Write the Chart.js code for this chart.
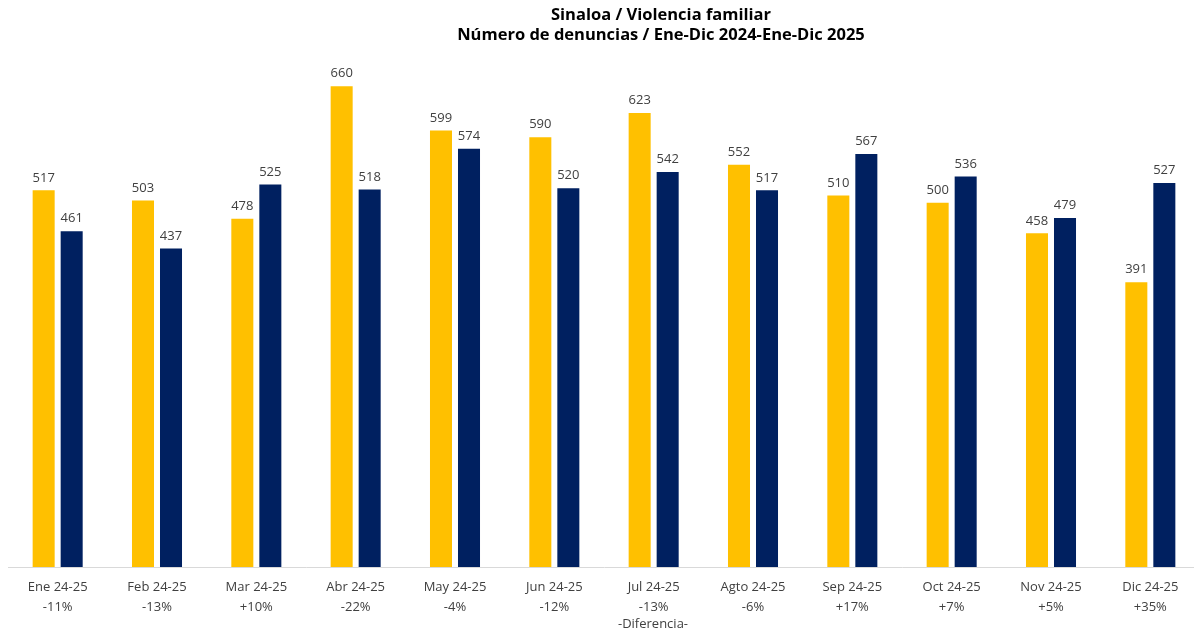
<!DOCTYPE html>
<html lang="es">
<head>
<meta charset="UTF-8">
<title>Sinaloa / Violencia familiar</title>
<script src="https://cdn.jsdelivr.net/npm/chart.js"></script>
<style>
    body { margin: 0; background: #fff; overflow: hidden; }
    #wrap { width: 1200px; height: 632px; position: relative; }
</style>
</head>
<body>
<div id="wrap"><canvas id="myChart"></canvas></div>
<script>
const months = ['Ene 24-25', 'Feb 24-25', 'Mar 24-25', 'Abr 24-25', 'May 24-25', 'Jun 24-25',
                'Jul 24-25', 'Agto 24-25', 'Sep 24-25', 'Oct 24-25', 'Nov 24-25', 'Dic 24-25'];
const diffs = ['-11%', '-13%', '+10%', '-22%', '-4%', '-12%', '-13%', '-6%', '+17%', '+7%', '+5%', '+35%'];
const values2024 = [517, 503, 478, 660, 599, 590, 623, 552, 510, 500, 458, 391];
const values2025 = [461, 437, 525, 518, 574, 520, 542, 517, 567, 536, 479, 527];
const titleLines = ['Sinaloa / Violencia familiar', 'Número de denuncias / Ene-Dic 2024-Ene-Dic 2025'];
const axisTitle = '-Diferencia-';

const FONT = '"Open Sans", sans-serif';

// numbers above bars + title + bottom axis title
const extras = {
    id: 'extras',
    afterDatasetsDraw(chart) {
        const ctx = chart.ctx;
        ctx.save();
        ctx.fillStyle = '#404040';
        ctx.font = '13px ' + FONT;
        ctx.textAlign = 'center';
        ctx.textBaseline = 'bottom';
        chart.data.datasets.forEach((ds, i) => {
            chart.getDatasetMeta(i).data.forEach((bar, j) => {
                ctx.fillText(ds.data[j], bar.x, bar.y - 6);
            });
        });

        ctx.fillStyle = '#000';
        ctx.font = 'bold 16.5px ' + FONT;
        ctx.textBaseline = 'middle';
        ctx.fillText(titleLines[0], 661, 15);
        ctx.fillText(titleLines[1], 661, 35);

        ctx.fillStyle = '#404040';
        ctx.font = '13px ' + FONT;
        ctx.fillText(axisTitle, 653, 624);
        ctx.restore();
    }
};

new Chart(document.getElementById('myChart'), {
    type: 'bar',
    data: {
        labels: months.map((m, i) => [m, diffs[i]]),
        datasets: [
            { label: '2024', data: values2024, backgroundColor: '#FFC000' },
            { label: '2025', data: values2025, backgroundColor: '#002060' }
        ]
    },
    options: {
        responsive: true,
        maintainAspectRatio: false,
        animation: false,
        layout: { padding: { top: 57, left: 8, right: 0, bottom: 4 } },
        datasets: { bar: { categoryPercentage: 0.564, barPercentage: 0.786 } },
        plugins: {
            legend: { display: false },
            tooltip: { enabled: false }
        },
        scales: {
            x: {
                grid: { display: false, drawTicks: false },
                border: { color: '#d9d9d9', width: 1 },
                ticks: {
                    color: '#404040',
                    padding: 11,
                    maxRotation: 0,
                    autoSkip: false,
                    font: { family: FONT, size: 13, lineHeight: 1.5 }
                }
            },
            y: {
                display: false,
                min: 0,
                max: 700
            }
        }
    },
    plugins: [extras]
});
</script>
</body>
</html>
